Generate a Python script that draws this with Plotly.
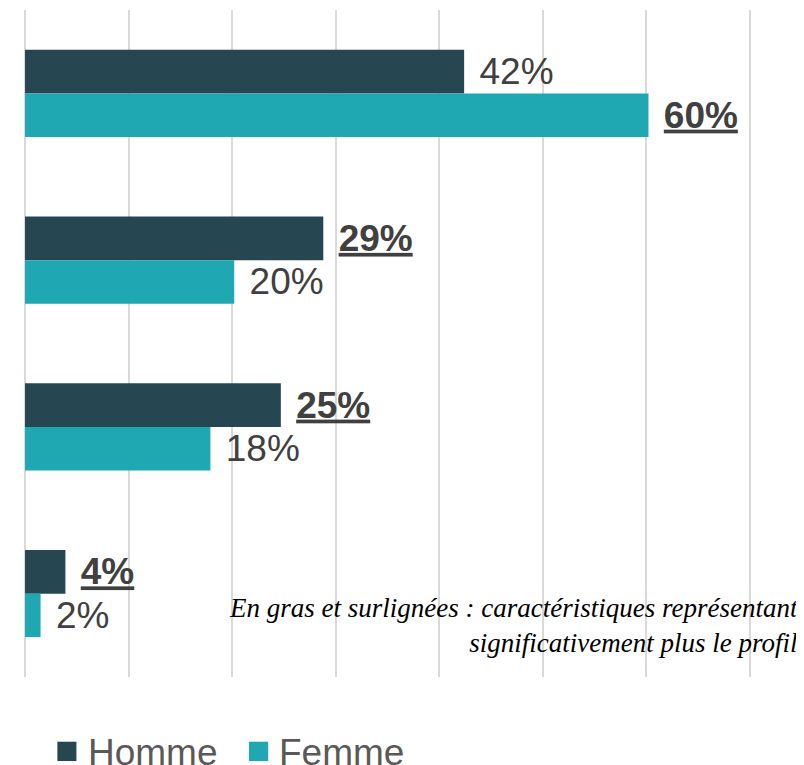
import plotly.graph_objects as go

categories = ["Caractéristique 1", "Caractéristique 2", "Caractéristique 3", "Caractéristique 4"]
homme_values = [42.4, 28.8, 24.7, 3.9]
femme_values = [60.2, 20.2, 17.9, 1.5]
homme_labels = ["42%", "29%", "25%", "4%"]
femme_labels = ["60%", "20%", "18%", "2%"]
homme_significant = [False, True, True, True]
femme_significant = [True, False, False, False]
series_names = ["Homme", "Femme"]
note_text = "En gras et surlignées : caractéristiques représentant<br>significativement plus le profil"

HOMME_COLOR = "#264651"
FEMME_COLOR = "#1fa8b2"
LABEL_COLOR = "#404040"
PAD = "\u2004"


def fmt(labels, sig):
    out = []
    for lab, s in zip(labels, sig):
        out.append(PAD + (f"<b><u>{lab}</u></b>" if s else lab))
    return out


fig = go.Figure()
fig.add_trace(go.Bar(
    y=categories, x=homme_values, orientation="h", name=series_names[0],
    marker=dict(color=HOMME_COLOR, line=dict(width=0)),
    text=fmt(homme_labels, homme_significant), textposition="outside",
    textfont=dict(family="Arial, Liberation Sans", size=37, color=LABEL_COLOR),
    cliponaxis=False, showlegend=False,
))
fig.add_trace(go.Bar(
    y=categories, x=femme_values, orientation="h", name=series_names[1],
    marker=dict(color=FEMME_COLOR, line=dict(width=0)),
    text=fmt(femme_labels, femme_significant), textposition="outside",
    textfont=dict(family="Arial, Liberation Sans", size=37, color=LABEL_COLOR),
    cliponaxis=False, showlegend=False,
))

# Manual legend (square swatches + labels)
legend_items = [
    (series_names[0], HOMME_COLOR, 0.0459, 0.0721, 0.0859),
    (series_names[1], FEMME_COLOR, 0.3094, 0.3359, 0.3486),
]
for name, color, x0, x1, xt in legend_items:
    fig.add_shape(type="rect", xref="paper", yref="paper", x0=x0, x1=x1,
                  y0=-0.126, y1=-0.097, fillcolor=color, line=dict(width=0))
    fig.add_annotation(xref="paper", yref="paper", x=xt, y=-0.1125,
                       xanchor="left", yanchor="middle", showarrow=False,
                       text=name, font=dict(family="Arial, Liberation Sans", size=37, color="#595959"))

fig.add_annotation(xref="paper", yref="paper", x=1.069, y=0.0772,
                   xanchor="right", yanchor="middle", align="right", showarrow=False,
                   text=f"<i>{note_text}</i>",
                   font=dict(family="Liberation Serif, Times New Roman, serif", size=27, color="#000000"))

fig.update_layout(
    width=796, height=757,
    margin=dict(l=16, r=53, t=2, b=88, autoexpand=False),
    paper_bgcolor="white", plot_bgcolor="white",
    barmode="group", bargap=0.478, bargroupgap=0,
    showlegend=False,
    xaxis=dict(range=[-0.1, 70.1], tickvals=[0, 10, 20, 30, 40, 50, 60, 70],
               showticklabels=False, showgrid=True,
               gridcolor="#d9d9d9", gridwidth=1.5, zeroline=False, showline=False, ticks=""),
    yaxis=dict(autorange="reversed", showticklabels=False, showgrid=False,
               zeroline=False, showline=False, ticks=""),
)

fig.write_html("out.html")
